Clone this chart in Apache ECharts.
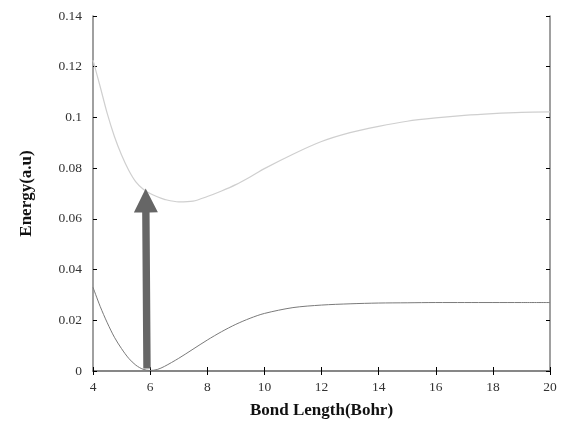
<!DOCTYPE html>
<html>
<head>
<meta charset="utf-8">
<script src="https://cdn.jsdelivr.net/npm/echarts@6/dist/echarts.min.js"></script>
<style>html,body{margin:0;padding:0;background:#fff}#c{width:562px;height:421px}</style>
</head>
<body>
<div id="c"></div>
<script>
var bondLength = [4, 4.25, 4.5, 4.75, 5, 5.25, 5.5, 5.75, 6, 6.25, 6.5, 7, 7.5, 8, 8.5, 9, 9.5, 10, 11, 12, 13, 14, 15, 16, 17, 18, 19, 20];
var upperEnergy = [0.1226, 0.1122, 0.1015, 0.0925, 0.0852, 0.0792, 0.0746, 0.0718, 0.0700, 0.0687, 0.0677, 0.0667, 0.0670, 0.0688, 0.0710, 0.0735, 0.0765, 0.0798, 0.0855, 0.0905, 0.0940, 0.0965, 0.0985, 0.0998, 0.1008, 0.1015, 0.1020, 0.1022];
var lowerEnergy = [0.0330, 0.0255, 0.0190, 0.0133, 0.0088, 0.0050, 0.0023, 0.0007, 0.0002, 0.0006, 0.0018, 0.0050, 0.0086, 0.0122, 0.0155, 0.0184, 0.0208, 0.0227, 0.0250, 0.0260, 0.0265, 0.0268, 0.0269, 0.0270, 0.0270, 0.0270, 0.0270, 0.0270];
var arrowFrom = [5.89, 0.0010];
var arrowTo = [5.845, 0.0720];
var xTicks = [4, 6, 8, 10, 12, 14, 16, 18, 20];
var yTicks = [0, 0.02, 0.04, 0.06, 0.08, 0.1, 0.12, 0.14];

function pairs(xs, ys) { return xs.map(function (x, i) { return [x, ys[i]]; }); }

var chart = echarts.init(document.getElementById('c'));
var serif = '"Liberation Serif", "DejaVu Serif", serif';
var boxLine = { show: true, lineStyle: { color: '#808080', width: 1.5 } };
var tick = { show: true, inside: true, length: 4, lineStyle: { color: '#000', width: 1 } };

chart.setOption({
  animation: false,
  grid: { left: 93, top: 16, right: 12, bottom: 50, outerBoundsMode: 'none', containLabel: false },
  xAxis: [{
    type: 'value', min: 4, max: 20, interval: 2,
    name: 'Bond Length(Bohr)', nameLocation: 'middle', nameGap: 31,
    nameTextStyle: { fontFamily: serif, fontWeight: 'bold', fontSize: 17, color: '#111', verticalAlign: 'top' },
    axisLine: boxLine, axisTick: tick, splitLine: { show: false },
    axisLabel: { fontFamily: serif, fontSize: 13.5, color: '#333', margin: 9 }
  }, {
    type: 'value', min: 4, max: 20, interval: 2, position: 'top',
    axisLine: boxLine, axisTick: tick, splitLine: { show: false }, axisLabel: { show: false }
  }],
  yAxis: [{
    type: 'value', min: 0, max: 0.14, interval: 0.02,
    name: 'Energy(a.u)', nameLocation: 'middle', nameGap: 58,
    nameTextStyle: { fontFamily: serif, fontWeight: 'bold', fontSize: 17, color: '#111' },
    axisLine: boxLine, axisTick: tick, splitLine: { show: false },
    axisLabel: { fontFamily: serif, fontSize: 13.5, color: '#333', margin: 11,
      formatter: function (v) { return String(+v.toFixed(2)); } }
  }, {
    type: 'value', min: 0, max: 0.14, interval: 0.02, position: 'right',
    axisLine: boxLine, axisTick: tick, splitLine: { show: false }, axisLabel: { show: false }
  }],
  series: [{
    type: 'line', data: pairs(bondLength, upperEnergy), smooth: 0.3, showSymbol: false,
    lineStyle: { color: '#cfcfcf', width: 1.2 }, z: 2
  }, {
    type: 'line', data: pairs(bondLength, lowerEnergy), smooth: 0.3, showSymbol: false,
    lineStyle: { color: '#7a7a7a', width: 1 }, z: 2
  }, {
    type: 'custom', data: [[arrowFrom[0], arrowFrom[1], arrowTo[0], arrowTo[1]]], z: 5,
    renderItem: function (params, api) {
      var a = api.coord([api.value(0), api.value(1)]);
      var b = api.coord([api.value(2), api.value(3)]);
      var dx = b[0] - a[0], dy = b[1] - a[1];
      var len = Math.sqrt(dx * dx + dy * dy);
      var ux = dx / len, uy = dy / len, nx = -uy, ny = ux;
      var shaft = 3.7, head = 12, headLen = 24;
      var hb = [b[0] - ux * headLen, b[1] - uy * headLen];
      var pts = [
        [a[0] + nx * shaft, a[1] + ny * shaft],
        [hb[0] + nx * shaft, hb[1] + ny * shaft],
        [hb[0] + nx * head, hb[1] + ny * head],
        b,
        [hb[0] - nx * head, hb[1] - ny * head],
        [hb[0] - nx * shaft, hb[1] - ny * shaft],
        [a[0] - nx * shaft, a[1] - ny * shaft]
      ];
      return { type: 'polygon', shape: { points: pts }, style: { fill: '#666666' } };
    }
  }]
});
</script>
</body>
</html>
